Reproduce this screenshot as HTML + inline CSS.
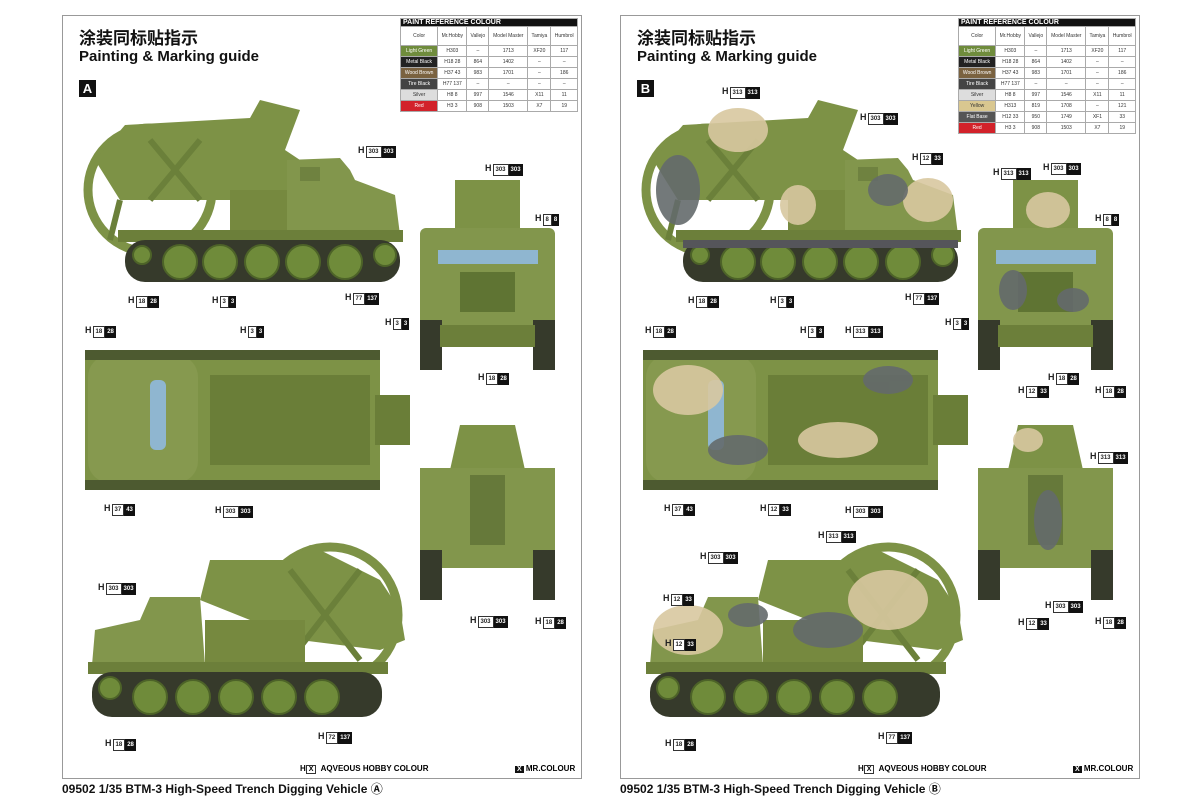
<!DOCTYPE html>
<html><head><meta charset="utf-8"><style>
body{margin:0;width:1200px;height:800px;background:#fff;position:relative;overflow:hidden;font-family:"Liberation Sans","Noto Sans CJK SC",sans-serif}
.panel{position:absolute;top:15px;width:518px;height:762px;border:1px solid #999;background:#fff}
.t1{position:absolute;font-size:17px;font-weight:bold;color:#111;font-family:"Liberation Sans","Noto Sans CJK SC",sans-serif}
.t2{position:absolute;font-size:15px;font-weight:bold;color:#111}
.badge{position:absolute;width:17px;height:17px;background:#111;color:#fff;font-weight:bold;font-size:13px;text-align:center;line-height:17px}
.cap{position:absolute;top:780px;font-size:12px;font-weight:bold;color:#111}
.l{position:absolute;font-size:9px;font-weight:bold;color:#222;white-space:nowrap;line-height:10px}
.l i{font-style:normal;display:inline-block;border:1px solid #333;font-size:6px;padding:0 2px;margin-left:1px;background:#fff}
.l b{display:inline-block;background:#111;color:#fff;font-size:6px;padding:1px 2px}
table{position:absolute;border-collapse:collapse;font-size:5px;color:#333}
table td{border:1px solid #aaa;text-align:center;height:10px;padding:0 2px}
tr.hd td{height:18px}
.th{background:#111;color:#fff;font-size:7px;font-weight:bold;text-align:left;height:7px}
svg{position:absolute;left:0;top:0}
.leg{position:absolute;top:764px;font-size:8px;font-weight:bold}
</style></head><body>
<div class="panel" style="left:62px"></div>
<div class="panel" style="left:620px"></div>

<svg width="1200" height="800">
<defs>
<g id="side">
 <circle cx="150" cy="190" r="62" fill="none" stroke="#7d9246" stroke-width="9"/>
 <path d="M95 160 L125 125 L250 118 L260 100 L300 110 L285 150 L300 160 L300 200 L120 200Z" fill="#7d9246"/>
 <path d="M150 140 L200 200 M200 140 L150 200 M120 200 L110 240" stroke="#6b803a" stroke-width="6"/>
 <rect x="230" y="190" width="60" height="45" fill="#76893f"/>
 <path d="M287 160 L340 158 L350 170 L355 180 L395 195 L400 235 L287 235Z" fill="#82964c"/>
 <rect x="300" y="167" width="20" height="14" fill="#6f8240"/>
 <rect x="118" y="230" width="285" height="12" fill="#6c7f3a"/>
 <rect x="125" y="240" width="275" height="42" rx="20" fill="#363a2b"/>
 <g fill="#6f8b3a" stroke="#4d6328" stroke-width="2"><circle cx="180" cy="262" r="17"/><circle cx="220" cy="262" r="17"/><circle cx="262" cy="262" r="17"/><circle cx="303" cy="262" r="17"/><circle cx="345" cy="262" r="17"/><circle cx="385" cy="255" r="11"/><circle cx="142" cy="255" r="9"/></g>
</g>
<g id="front">
 <rect x="455" y="180" width="65" height="50" fill="#7d9246"/>
 <rect x="420" y="228" width="135" height="110" rx="6" fill="#82964c"/>
 <rect x="438" y="250" width="100" height="14" fill="#8fb6d0"/>
 <rect x="460" y="272" width="55" height="40" fill="#5f7433"/>
 <rect x="420" y="320" width="22" height="50" fill="#363a2b"/>
 <rect x="533" y="320" width="22" height="50" fill="#363a2b"/>
 <rect x="440" y="325" width="95" height="22" fill="#6c7f3a"/>
</g>
<g id="top">
 <rect x="85" y="350" width="295" height="140" rx="10" fill="#7d9246"/>
 <rect x="88" y="355" width="110" height="128" rx="22" fill="#86994f"/>
 <rect x="150" y="380" width="16" height="70" rx="6" fill="#8fb6d0"/>
 <rect x="210" y="375" width="160" height="90" fill="#6a7e38"/>
 <rect x="375" y="395" width="35" height="50" fill="#6a7e38"/>
 <rect x="85" y="350" width="295" height="10" fill="#4d5a30"/><rect x="85" y="480" width="295" height="10" fill="#4d5a30"/>
</g>
<g id="rear">
 <path d="M450 470 L460 425 L515 425 L525 470Z" fill="#7d9246"/>
 <rect x="420" y="468" width="135" height="100" fill="#82964c"/>
 <rect x="470" y="475" width="35" height="70" fill="#66793a"/>
 <rect x="420" y="550" width="22" height="50" fill="#363a2b"/>
 <rect x="533" y="550" width="22" height="50" fill="#363a2b"/>
</g>
<g id="side2">
 <circle cx="330" cy="615" r="68" fill="none" stroke="#7d9246" stroke-width="9"/>
 <path d="M200 600 L210 560 L290 560 L310 545 L380 580 L400 610 L405 640 L380 650 L300 640 Z" fill="#7d9246"/>
 <path d="M290 570 L360 660 M360 570 L290 660" stroke="#6b803a" stroke-width="6"/>
 <path d="M92 665 L95 630 L140 620 L150 597 L200 597 L205 665Z" fill="#82964c"/>
 <rect x="205" y="620" width="100" height="45" fill="#76893f"/>
 <rect x="88" y="662" width="300" height="12" fill="#6c7f3a"/>
 <rect x="92" y="672" width="290" height="45" rx="20" fill="#363a2b"/>
 <g fill="#6f8b3a" stroke="#4d6328" stroke-width="2"><circle cx="150" cy="697" r="17"/><circle cx="193" cy="697" r="17"/><circle cx="236" cy="697" r="17"/><circle cx="279" cy="697" r="17"/><circle cx="322" cy="697" r="17"/><circle cx="110" cy="688" r="11"/></g>
</g>
</defs>
<use href="#side"/><use href="#front"/><use href="#top"/><use href="#rear"/><use href="#side2"/>
<g transform="translate(558,0)">
<use href="#side"/><use href="#front"/><use href="#top"/><use href="#rear"/><use href="#side2"/>
<g fill="#d8c8a0" opacity="0.9"><ellipse cx="180" cy="130" rx="30" ry="22"/><ellipse cx="370" cy="200" rx="25" ry="22"/><ellipse cx="130" cy="390" rx="35" ry="25"/><ellipse cx="280" cy="440" rx="40" ry="18"/><ellipse cx="130" cy="630" rx="35" ry="25"/><ellipse cx="330" cy="600" rx="40" ry="30"/><ellipse cx="490" cy="210" rx="22" ry="18"/><ellipse cx="470" cy="440" rx="15" ry="12"/><ellipse cx="240" cy="205" rx="18" ry="20"/></g>
<g fill="#646a6c" opacity="0.9"><ellipse cx="120" cy="190" rx="22" ry="35"/><ellipse cx="330" cy="190" rx="20" ry="16"/><ellipse cx="180" cy="450" rx="30" ry="15"/><ellipse cx="330" cy="380" rx="25" ry="14"/><ellipse cx="270" cy="630" rx="35" ry="18"/><ellipse cx="190" cy="615" rx="20" ry="12"/><ellipse cx="455" cy="290" rx="14" ry="20"/><ellipse cx="515" cy="300" rx="16" ry="12"/><ellipse cx="490" cy="520" rx="14" ry="30"/></g>
<g fill="#55555a"><rect x="125" y="240" width="275" height="8"/></g>
</g>
</svg>

<div class="t1" style="left:79px;top:24px">涂装同标贴指示</div>
<div class="t2" style="left:79px;top:48px">Painting &amp; Marking guide</div>
<div class="badge" style="left:79px;top:80px">A</div>
<div class="t1" style="left:637px;top:24px">涂装同标贴指示</div>
<div class="t2" style="left:637px;top:48px">Painting &amp; Marking guide</div>
<div class="badge" style="left:637px;top:80px">B</div>

<table style="left:400px;top:18px;width:178px">
<tr><td colspan="6" class="th">PAINT REFERENCE COLOUR</td></tr>
<tr class="hd"><td>Color</td><td>Mr.Hobby</td><td>Vallejo</td><td>Model Master</td><td>Tamiya</td><td>Humbrol</td></tr>
<tr><td style="background:#6f8c3c;color:#fff">Light Green</td><td>H303</td><td>–</td><td>1713</td><td>XF20</td><td>117</td></tr>
<tr><td style="background:#222;color:#fff">Metal Black</td><td>H18 28</td><td>864</td><td>1402</td><td>–</td><td>–</td></tr>
<tr><td style="background:#7a6240;color:#fff">Wood Brown</td><td>H37 43</td><td>983</td><td>1701</td><td>–</td><td>186</td></tr>
<tr><td style="background:#444;color:#fff">Tire Black</td><td>H77 137</td><td>–</td><td>–</td><td>–</td><td>–</td></tr>
<tr><td style="background:#ddd">Silver</td><td>H8 8</td><td>997</td><td>1546</td><td>X11</td><td>11</td></tr>
<tr><td style="background:#d2222a;color:#fff">Red</td><td>H3 3</td><td>908</td><td>1503</td><td>X7</td><td>19</td></tr>
</table>
<table style="left:958px;top:18px;width:178px">
<tr><td colspan="6" class="th">PAINT REFERENCE COLOUR</td></tr>
<tr class="hd"><td>Color</td><td>Mr.Hobby</td><td>Vallejo</td><td>Model Master</td><td>Tamiya</td><td>Humbrol</td></tr>
<tr><td style="background:#6f8c3c;color:#fff">Light Green</td><td>H303</td><td>–</td><td>1713</td><td>XF20</td><td>117</td></tr>
<tr><td style="background:#222;color:#fff">Metal Black</td><td>H18 28</td><td>864</td><td>1402</td><td>–</td><td>–</td></tr>
<tr><td style="background:#7a6240;color:#fff">Wood Brown</td><td>H37 43</td><td>983</td><td>1701</td><td>–</td><td>186</td></tr>
<tr><td style="background:#444;color:#fff">Tire Black</td><td>H77 137</td><td>–</td><td>–</td><td>–</td><td>–</td></tr>
<tr><td style="background:#ddd">Silver</td><td>H8 8</td><td>997</td><td>1546</td><td>X11</td><td>11</td></tr>
<tr><td style="background:#d9c790">Yellow</td><td>H313</td><td>819</td><td>1708</td><td>–</td><td>121</td></tr>
<tr><td style="background:#555;color:#fff">Flat Base</td><td>H12 33</td><td>950</td><td>1749</td><td>XF1</td><td>33</td></tr>
<tr><td style="background:#d2222a;color:#fff">Red</td><td>H3 3</td><td>908</td><td>1503</td><td>X7</td><td>19</td></tr>
</table>

<span class="l" style="left:358px;top:145px">H<i>303</i><b>303</b></span>
<span class="l" style="left:485px;top:163px">H<i>303</i><b>303</b></span>
<span class="l" style="left:535px;top:213px">H<i>8</i><b>8</b></span>
<span class="l" style="left:128px;top:295px">H<i>18</i><b>28</b></span>
<span class="l" style="left:212px;top:295px">H<i>3</i><b>3</b></span>
<span class="l" style="left:345px;top:292px">H<i>77</i><b>137</b></span>
<span class="l" style="left:385px;top:317px">H<i>3</i><b>3</b></span>
<span class="l" style="left:85px;top:325px">H<i>18</i><b>28</b></span>
<span class="l" style="left:240px;top:325px">H<i>3</i><b>3</b></span>
<span class="l" style="left:478px;top:372px">H<i>18</i><b>28</b></span>
<span class="l" style="left:104px;top:503px">H<i>37</i><b>43</b></span>
<span class="l" style="left:215px;top:505px">H<i>303</i><b>303</b></span>
<span class="l" style="left:98px;top:582px">H<i>303</i><b>303</b></span>
<span class="l" style="left:105px;top:738px">H<i>18</i><b>28</b></span>
<span class="l" style="left:318px;top:731px">H<i>72</i><b>137</b></span>
<span class="l" style="left:470px;top:615px">H<i>303</i><b>303</b></span>
<span class="l" style="left:535px;top:616px">H<i>18</i><b>28</b></span>

<span class="l" style="left:722px;top:86px">H<i>313</i><b>313</b></span>
<span class="l" style="left:860px;top:112px">H<i>303</i><b>303</b></span>
<span class="l" style="left:912px;top:152px">H<i>12</i><b>33</b></span>
<span class="l" style="left:1043px;top:162px">H<i>303</i><b>303</b></span>
<span class="l" style="left:993px;top:167px">H<i>313</i><b>313</b></span>
<span class="l" style="left:1095px;top:213px">H<i>8</i><b>8</b></span>
<span class="l" style="left:688px;top:295px">H<i>18</i><b>28</b></span>
<span class="l" style="left:770px;top:295px">H<i>3</i><b>3</b></span>
<span class="l" style="left:905px;top:292px">H<i>77</i><b>137</b></span>
<span class="l" style="left:945px;top:317px">H<i>3</i><b>3</b></span>
<span class="l" style="left:645px;top:325px">H<i>18</i><b>28</b></span>
<span class="l" style="left:800px;top:325px">H<i>3</i><b>3</b></span>
<span class="l" style="left:845px;top:325px">H<i>313</i><b>313</b></span>
<span class="l" style="left:1018px;top:385px">H<i>12</i><b>33</b></span>
<span class="l" style="left:1048px;top:372px">H<i>18</i><b>28</b></span>
<span class="l" style="left:1095px;top:385px">H<i>18</i><b>28</b></span>
<span class="l" style="left:664px;top:503px">H<i>37</i><b>43</b></span>
<span class="l" style="left:760px;top:503px">H<i>12</i><b>33</b></span>
<span class="l" style="left:845px;top:505px">H<i>303</i><b>303</b></span>
<span class="l" style="left:1090px;top:451px">H<i>313</i><b>313</b></span>
<span class="l" style="left:700px;top:551px">H<i>303</i><b>303</b></span>
<span class="l" style="left:818px;top:530px">H<i>313</i><b>313</b></span>
<span class="l" style="left:663px;top:593px">H<i>12</i><b>33</b></span>
<span class="l" style="left:665px;top:638px">H<i>12</i><b>33</b></span>
<span class="l" style="left:1045px;top:600px">H<i>303</i><b>303</b></span>
<span class="l" style="left:1018px;top:617px">H<i>12</i><b>33</b></span>
<span class="l" style="left:1095px;top:616px">H<i>18</i><b>28</b></span>
<span class="l" style="left:665px;top:738px">H<i>18</i><b>28</b></span>
<span class="l" style="left:878px;top:731px">H<i>77</i><b>137</b></span>

<div class="leg" style="left:300px">H<span style="border:1px solid #333;padding:0 2px;font-size:7px">X</span>&nbsp; AQVEOUS HOBBY COLOUR</div>
<div class="leg" style="left:515px"><span style="background:#111;color:#fff;padding:0 2px;font-size:7px">X</span> MR.COLOUR</div>
<div class="leg" style="left:858px">H<span style="border:1px solid #333;padding:0 2px;font-size:7px">X</span>&nbsp; AQVEOUS HOBBY COLOUR</div>
<div class="leg" style="left:1073px"><span style="background:#111;color:#fff;padding:0 2px;font-size:7px">X</span> MR.COLOUR</div>

<div class="cap" style="left:62px">09502 1/35 BTM-3 High-Speed Trench Digging Vehicle Ⓐ</div>
<div class="cap" style="left:620px">09502 1/35 BTM-3 High-Speed Trench Digging Vehicle Ⓑ</div>
</body></html>
